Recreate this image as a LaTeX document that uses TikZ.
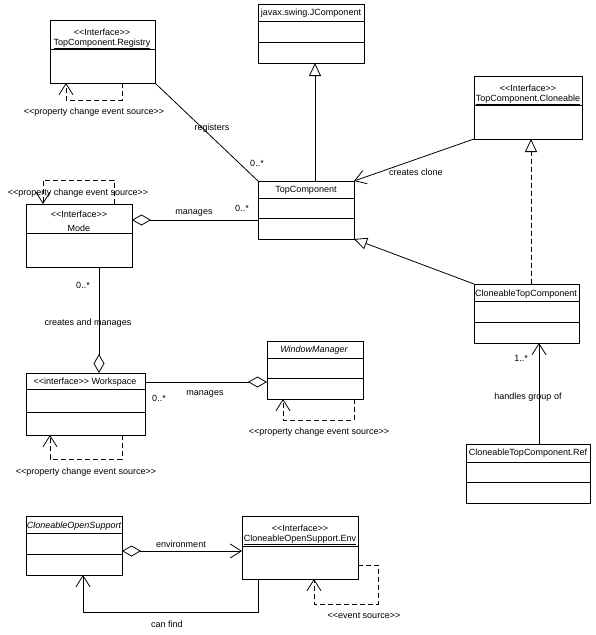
\documentclass[tikz,border=0pt]{standalone}
\usepackage{fontspec}
\setmainfont{Liberation Sans}[Ligatures=TeXOff]
\usetikzlibrary{arrows.meta}

\tikzset{
  classbox/.style={draw, line width=0.8pt, anchor=north west, inner sep=0pt, outer sep=0pt},
  rule/.style={line width=0.8pt},
  assoc/.style={line width=0.8pt},
  nav/.style={line width=0.8pt, -{Straight Barb[length=11pt, width=14pt]}},
  gen/.style={line width=0.8pt, -{Triangle[open, length=13pt, width=12pt]}},
  aggr/.style={line width=0.8pt, {Diamond[open, length=19pt, width=11pt]}-},
  aggrnav/.style={line width=0.8pt, {Diamond[open, length=19pt, width=11pt]}-{Straight Barb[length=11pt, width=14pt]}},
  dep/.style={line width=0.8pt, dash pattern=on 5pt off 3pt, -{Straight Barb[length=11pt, width=14pt]}},
  dottedgen/.style={line width=0.8pt, dash pattern=on 5pt off 3pt, -{Triangle[open, length=13pt, width=12pt]}},
}

\begin{document}
\begin{tikzpicture}[x=1pt, y=-1pt, font=\fontsize{9}{10.5}\selectfont]
  % canvas, same size as the reference
  \fill[white] (0,0) rectangle (595,635);
  \useasboundingbox (0,0) rectangle (595,635);

  % class boxes
  \node[classbox, minimum width=105pt, minimum height=63pt] (registry)  at (50,20)   {};
  \node[classbox, minimum width=106pt, minimum height=59pt] (jcomp)     at (258,4)   {};
  \node[classbox, minimum width=108pt, minimum height=63pt] (cloneable) at (474,76)  {};
  \node[classbox, minimum width=96pt,  minimum height=58pt] (topcomp)   at (258,181) {};
  \node[classbox, minimum width=106pt, minimum height=63pt] (mode)      at (26,204)  {};
  \node[classbox, minimum width=119pt, minimum height=62pt] (workspace) at (26,373)  {};
  \node[classbox, minimum width=96pt,  minimum height=58pt] (winmgr)    at (267,341) {};
  \node[classbox, minimum width=105pt, minimum height=59pt] (ctc)       at (474,284) {};
  \node[classbox, minimum width=124pt, minimum height=59pt] (ref)       at (466,444) {};
  \node[classbox, minimum width=96pt,  minimum height=59pt] (cos)       at (26,516)  {};
  \node[classbox, minimum width=116pt, minimum height=63pt] (env)       at (242,516) {};

  % compartment rules
  \foreach \n/\d in {registry/29pt, jcomp/17pt, jcomp/38pt, cloneable/29pt,
                     topcomp/17pt, topcomp/37pt, mode/29pt, workspace/16pt, workspace/39pt,
                     winmgr/17pt, winmgr/37pt, ctc/17pt, ctc/38pt, ref/18pt, ref/38pt,
                     cos/17pt, cos/38pt, env/30pt}
    \draw[rule] ([yshift=-\d]\n.north west) -- ([yshift=-\d]\n.north east);

  % class names
  \node (registrystereo)  at (102,32)  {<<Interface>>};
  \node (registryname)    at (102,44)  {\underline{TopComponent.Registry}};
  \node (jcompname)       at (311,13)  {javax.swing.JComponent};
  \node (cloneablestereo) at (528,88)  {<<Interface>>};
  \node (cloneablename)   at (528,100) {\underline{TopComponent.Cloneable}};
  \node (topcompname)     at (306,190) {TopComponent};
  \node (modestereo)      at (79,214)  {<<Interface>>};
  \node (modename)        at (79,228)  {Mode};
  \node (workspacename)   at (85,382)  {<<interface>> Workspace};
  \node (winmgrname)      at (314,350) {\itshape WindowManager};
  \node (ctcname)         at (526,294) {CloneableTopComponent};
  \node (refname)         at (528,453) {CloneableTopComponent.Ref};
  \node (cosname)         at (74,526)  {\itshape CloneableOpenSupport};
  \node (envstereo)       at (300,528) {<<Interface>>};
  \node (envname)         at (300,540) {\underline{CloneableOpenSupport.Env}};

  % generalisations
  \draw[gen] ([xshift=9pt]topcomp.north) -- ([xshift=9pt]topcomp.north |- jcomp.south);
  \draw[gen] (ctc.north west) -- (topcomp.south east);
  \draw[dottedgen] ([xshift=3pt]cloneable.south |- ctc.north) -- ([xshift=3pt]cloneable.south);

  % associations
  \draw[assoc] (registry.south east) -- (topcomp.north west);
  \node (registerslabel) at (212,128) {registers};
  \node (registersmult)  at (257,163) {0..*};

  \draw[nav] (cloneable.south west) -- (topcomp.north east);
  \node (clonelabel) at (416,172) {creates clone};

  \draw[aggr] ([yshift=15.5pt]mode.east) -- ([yshift=15.5pt]mode.east -| topcomp.west);
  \node (modemanages) at (194,213) {manages};
  \node (modemult)    at (242,208) {0..*};

  \draw[aggr] ([xshift=20pt]mode.south |- workspace.north) -- ([xshift=20pt]mode.south);
  \node (wsmult)  at (83,285) {0..*};
  \node (wslabel) at (88,323) {creates and manages};

  \draw[aggr] ([yshift=-12pt]winmgr.west) -- ([yshift=-12pt]winmgr.west -| workspace.east);
  \node (wmmult)    at (159,398) {0..*};
  \node (wmmanages) at (205,394) {manages};

  \draw[nav] ([xshift=11pt]ref.north) -- ([xshift=11pt]ref.north |- ctc.south);
  \node (refmult)  at (521,358) {1..*};
  \node (reflabel) at (528,397) {handles group of};

  \draw[aggrnav] ([yshift=-5.5pt]cos.east) -- ([yshift=-5.5pt]cos.east -| env.west);
  \node (envlabel) at (181,544) {environment};

  \draw[nav] ([xshift=16pt]env.south west) -- ++(0,33) -| ([xshift=57pt]cos.south west);
  \node (findlabel) at (167,624) {can find};

  % self dependencies
  \draw[dep] ([xshift=-33pt]registry.south east) -- ++(0,17) -| ([xshift=16pt]registry.south west);
  \node (registryloop) at (94,112) {<<property change event source>>};

  \draw[dep] ([xshift=-18pt]mode.north east) -- ++(0,-24) -| ([xshift=17pt]mode.north west);
  \node (modeloop) at (78,193) {<<property change event source>>};

  \draw[dep] ([xshift=-23pt]workspace.south east) -- ++(0,24) -| ([xshift=24pt]workspace.south west);
  \node (workspaceloop) at (86,472) {<<property change event source>>};

  \draw[dep] ([xshift=-9pt]winmgr.south east) -- ++(0,21) -| ([xshift=16pt]winmgr.south west);
  \node (winmgrloop) at (319,432) {<<property change event source>>};

  \draw[dep] ([yshift=-17.5pt]env.east) -- ++(20,0) -- ++(0,39) -| ([xshift=72pt]env.south west);
  \node (envloop) at (364,616) {<<event source>>};
\end{tikzpicture}
\end{document}
